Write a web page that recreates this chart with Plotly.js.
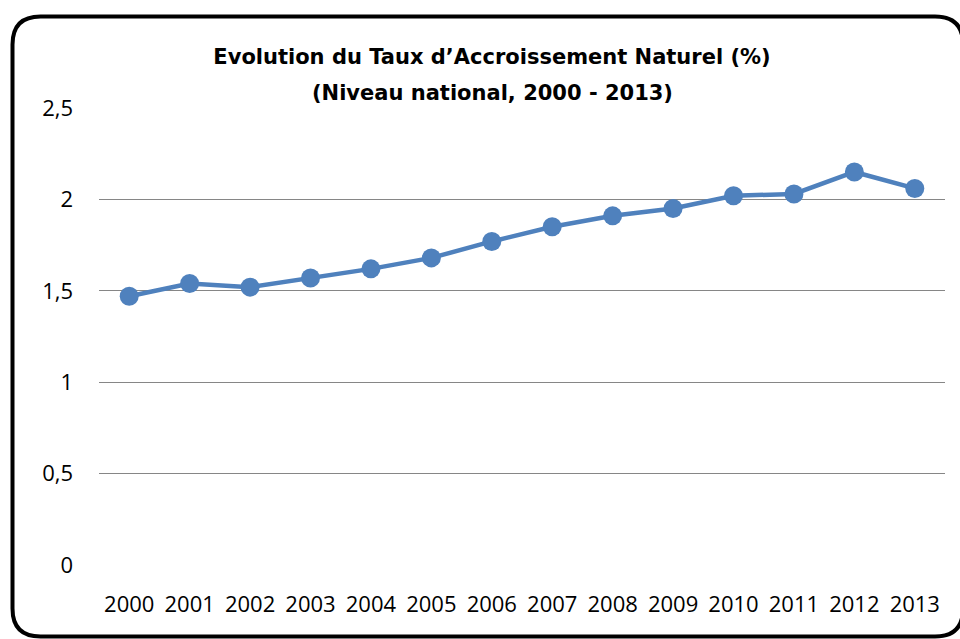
<!DOCTYPE html>
<html>
<head>
<meta charset="utf-8">
<script src="https://cdn.plot.ly/plotly-3.0.1.min.js"></script>
<style>
html,body{margin:0;padding:0;background:#fff;}
#chart{width:960px;height:639px;}
</style>
</head>
<body>
<div id="chart"></div>
<script>
const years = ["2000","2001","2002","2003","2004","2005","2006","2007","2008","2009","2010","2011","2012","2013"];
const rates = [1.47,1.54,1.52,1.57,1.62,1.68,1.77,1.85,1.91,1.95,2.02,2.03,2.15,2.06];
const yTicks = [0,0.5,1,1.5,2,2.5];
const titleLine1 = "Evolution du Taux d\u2019Accroissement Naturel (%)";
const titleLine2 = "(Niveau national, 2000 - 2013)";

// plot area geometry (pixels) used to place the rounded frame
const L = 99, R = 15, T = 108, B = 74, W = 960, H = 639;
const pw = W - L - R, ph = H - T - B;
function px(x){ return (x - L) / pw; }
function py(y){ return (H - B - y) / ph; }
const fx0 = px(12.5), fx1 = px(963), fyt = py(16.5), fyb = py(636.5);
const rx = 28 / pw, ry = 28 / ph;
const framePath = `M ${fx0+rx},${fyt} L ${fx1-rx},${fyt} Q ${fx1},${fyt} ${fx1},${fyt-ry} ` +
  `L ${fx1},${fyb+ry} Q ${fx1},${fyb} ${fx1-rx},${fyb} L ${fx0+rx},${fyb} ` +
  `Q ${fx0},${fyb} ${fx0},${fyb+ry} L ${fx0},${fyt-ry} Q ${fx0},${fyt} ${fx0+rx},${fyt} Z`;

const titleFont = {family: 'DejaVu Sans, sans-serif', size: 21, color: '#000000', weight: 'bold'};

const trace = {
  x: years, y: rates, type: 'scatter', mode: 'lines+markers',
  line: {color: '#4F81BD', width: 4.5},
  marker: {color: '#4F81BD', size: 19},
  hoverinfo: 'x+y'
};

const layout = {
  width: W, height: H,
  margin: {l: L, r: R, t: T, b: B},
  paper_bgcolor: '#ffffff', plot_bgcolor: '#ffffff',
  separators: ', ',
  showlegend: false,
  font: {family: 'Open Sans, sans-serif', color: '#000000'},
  title: {
    text: '<b>' + titleLine1 + '</b>',
    x: 492 / W, xref: 'container', xanchor: 'center',
    y: 1 - 57 / H, yref: 'container', yanchor: 'middle',
    font: titleFont
  },
  annotations: [{
    text: '<b>' + titleLine2 + '</b>',
    xref: 'paper', yref: 'paper',
    x: px(492), y: py(93), xanchor: 'center', yanchor: 'middle',
    showarrow: false, font: titleFont
  }],
  xaxis: {
    type: 'category', range: [-0.5, 13.5],
    showgrid: false, zeroline: false, showline: false,
    ticks: '', ticklabelstandoff: 24,
    tickfont: {size: 22, color: '#000000'}
  },
  yaxis: {
    range: [0, 2.5], tickvals: yTicks,
    showgrid: true, gridcolor: '#868686', gridwidth: 1,
    zeroline: false, showline: false,
    ticks: '', ticklabelstandoff: 25,
    tickfont: {size: 22, color: '#000000'}
  },
  shapes: [{
    type: 'path', xref: 'paper', yref: 'paper', path: framePath,
    line: {color: '#000000', width: 4}, fillcolor: 'rgba(0,0,0,0)', layer: 'above'
  }]
};

Plotly.newPlot('chart', [trace], layout, {displayModeBar: false, staticPlot: true});
</script>
</body>
</html>
